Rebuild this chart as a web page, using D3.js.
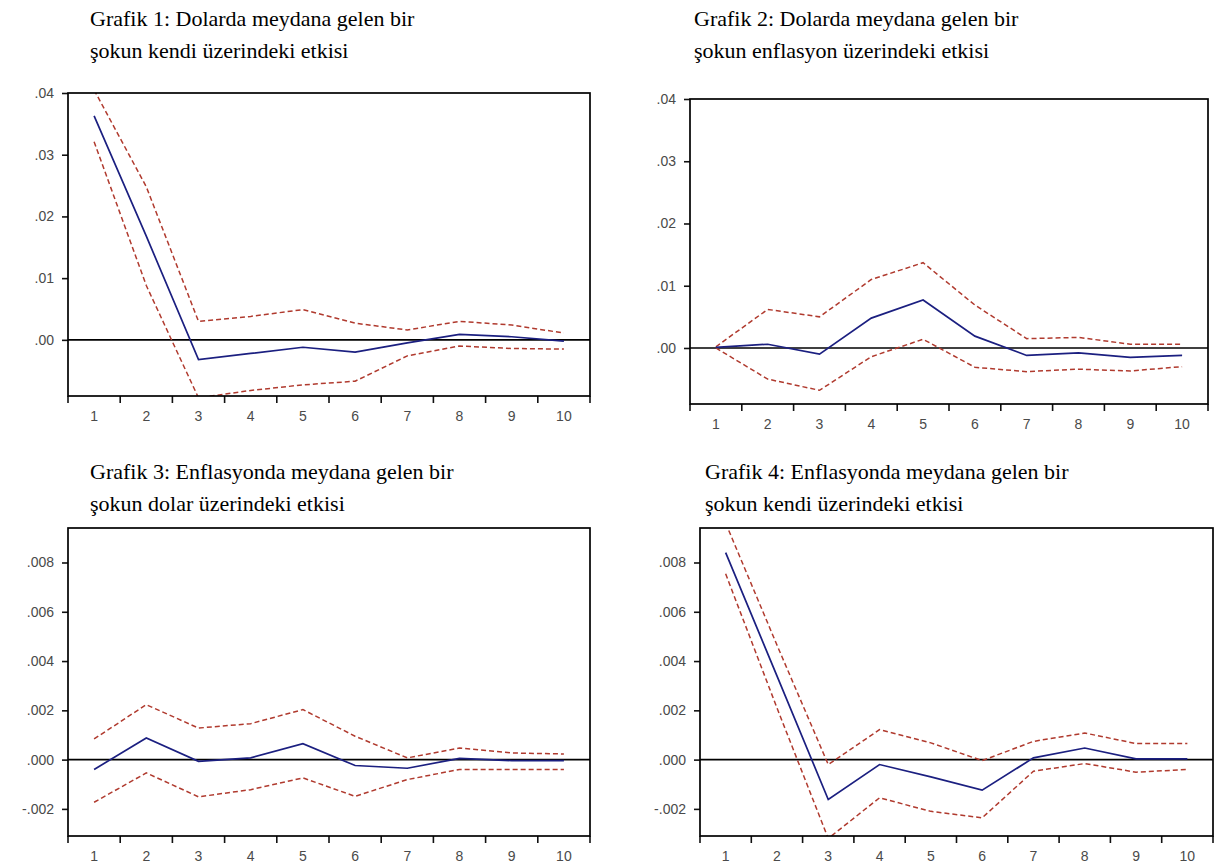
<!DOCTYPE html>
<html>
<head>
<meta charset="utf-8">
<script src="https://cdn.jsdelivr.net/npm/d3@7"></script>
<style>
  html, body { margin: 0; padding: 0; background: #fff; }
  svg { display: block; }
</style>
</head>
<body>
<svg id="chart" width="1215" height="868"></svg>
<script>
// Impulse responses over 10 periods, with ±2 s.e. bands
const periods = [1, 2, 3, 4, 5, 6, 7, 8, 9, 10];

// Grafik 1: dollar shock -> dollar
const g1Response = [0.0363, 0.0168, -0.0032, -0.0022, -0.0012, -0.0020, -0.0005, 0.0009, 0.0005, -0.0002];
const g1Upper    = [0.0405, 0.0248, 0.0030, 0.0038, 0.0049, 0.0027, 0.0016, 0.0030, 0.0024, 0.0011];
const g1Lower    = [0.0321, 0.0088, -0.0094, -0.0082, -0.0073, -0.0067, -0.0026, -0.0010, -0.0014, -0.0015];

// Grafik 2: dollar shock -> inflation
const g2Response = [0.0001, 0.0006, -0.0010, 0.0048, 0.0077, 0.0019, -0.0012, -0.0008, -0.0015, -0.0012];
const g2Upper    = [0.0002, 0.0062, 0.0050, 0.0110, 0.0137, 0.0069, 0.0015, 0.0017, 0.0006, 0.0006];
const g2Lower    = [0.0000, -0.0050, -0.0068, -0.0014, 0.0014, -0.0031, -0.0038, -0.0034, -0.0037, -0.0030];

// Grafik 3: inflation shock -> dollar
const g3Response = [-0.00040, 0.00088, -0.00007, 0.00007, 0.00065, -0.00024, -0.00035, 0.00005, -0.00004, -0.00004];
const g3Upper    = [0.00084, 0.00223, 0.00128, 0.00146, 0.00203, 0.00095, 0.00007, 0.00047, 0.00027, 0.00023];
const g3Lower    = [-0.00173, -0.00054, -0.00151, -0.00122, -0.00074, -0.00149, -0.00081, -0.00040, -0.00040, -0.00040];

// Grafik 4: inflation shock -> inflation
const g4Response = [0.00840, 0.00340, -0.00162, -0.00020, -0.00070, -0.00124, 0.00007, 0.00047, 0.00003, 0.00003];
const g4Upper    = [0.00960, 0.00465, -0.00020, 0.00122, 0.00068, -0.00004, 0.00074, 0.00108, 0.00065, 0.00065];
const g4Lower    = [0.00754, 0.00210, -0.00320, -0.00155, -0.00210, -0.00236, -0.00047, -0.00016, -0.00051, -0.00040];

// Axis ticks
const topTicks = [0.04, 0.03, 0.02, 0.01, 0.00];
const topTickLabels = [".04", ".03", ".02", ".01", ".00"];
const bottomTicks = [0.008, 0.006, 0.004, 0.002, 0.000, -0.002];
const bottomTickLabels = [".008", ".006", ".004", ".002", ".000", "-.002"];

// Titles (two lines each)
const titles = [
  ["Grafik 1: Dolarda meydana gelen bir", "şokun kendi üzerindeki etkisi"],
  ["Grafik 2: Dolarda meydana gelen bir", "şokun enflasyon üzerindeki etkisi"],
  ["Grafik 3: Enflasyonda meydana gelen bir", "şokun dolar üzerindeki etkisi"],
  ["Grafik 4: Enflasyonda meydana gelen bir", "şokun kendi üzerindeki etkisi"]
];

const panels = [
  { resp: g1Response, up: g1Upper, lo: g1Lower, ticks: topTicks, labels: topTickLabels,
    domain: [-0.0091, 0.04], left: 68, right: 590, top: 93, bottom: 396,
    titleX: 90, titleY: 26, title: titles[0] },
  { resp: g2Response, up: g2Upper, lo: g2Lower, ticks: topTicks, labels: topTickLabels,
    domain: [-0.009, 0.04], left: 690, right: 1208, top: 99, bottom: 404,
    titleX: 694, titleY: 26, title: titles[1] },
  { resp: g3Response, up: g3Upper, lo: g3Lower, ticks: bottomTicks, labels: bottomTickLabels,
    domain: [-0.0031, 0.0094], left: 68, right: 590, top: 528, bottom: 836,
    titleX: 90, titleY: 479, title: titles[2] },
  { resp: g4Response, up: g4Upper, lo: g4Lower, ticks: bottomTicks, labels: bottomTickLabels,
    domain: [-0.0031, 0.0094], left: 700, right: 1213, top: 528, bottom: 836,
    titleX: 705, titleY: 479, title: titles[3] }
];

const svg = d3.select("#chart");
const labelFont = "'Liberation Sans', Arial, sans-serif";

panels.forEach((p, idx) => {
  const g = svg.append("g");

  const x = d3.scaleBand().domain(periods).range([p.left, p.right]);
  const y = d3.scaleLinear().domain(p.domain).range([p.bottom, p.top]);
  const cx = d => x(d) + x.bandwidth() / 2;

  // title
  const t = g.append("text")
    .attr("x", p.titleX).attr("y", p.titleY)
    .attr("font-family", "'Liberation Serif', 'Times New Roman', serif")
    .attr("font-size", 22).attr("fill", "#000");
  p.title.forEach((line, i) => {
    t.append("tspan").attr("x", p.titleX).attr("dy", i === 0 ? 0 : 32).text(line);
  });

  // clip to plot box
  const clipId = "clip" + idx;
  svg.append("clipPath").attr("id", clipId)
    .append("rect").attr("x", p.left).attr("y", p.top)
    .attr("width", p.right - p.left).attr("height", p.bottom - p.top);

  // y axis
  const yAxis = d3.axisLeft(y).tickValues(p.ticks)
    .tickFormat((d, i) => p.labels[i]).tickSize(6).tickPadding(8);
  const ya = g.append("g").attr("transform", `translate(${p.left},0)`).call(yAxis);
  ya.select(".domain").remove();
  ya.selectAll("line").attr("stroke", "#111").attr("stroke-width", 1.6);
  ya.selectAll("text").attr("font-family", labelFont)
    .attr("font-size", 14).attr("fill", "#4a4a4a");

  // x axis: ticks at period boundaries, labels centred
  const bounds = periods.map(d => x(d)).concat([p.right]);
  g.append("g").selectAll("line").data(bounds).join("line")
    .attr("x1", d => d).attr("x2", d => d)
    .attr("y1", p.bottom).attr("y2", p.bottom + 7)
    .attr("stroke", "#111").attr("stroke-width", 1.6);
  g.append("g").selectAll("text").data(periods).join("text")
    .attr("x", d => cx(d)).attr("y", p.bottom + 25)
    .attr("text-anchor", "middle")
    .attr("font-family", labelFont)
    .attr("font-size", 14).attr("fill", "#4a4a4a")
    .text(d => d);

  const plot = g.append("g").attr("clip-path", `url(#${clipId})`);

  // zero line
  plot.append("line")
    .attr("x1", p.left).attr("x2", p.right)
    .attr("y1", y(0)).attr("y2", y(0))
    .attr("stroke", "#000").attr("stroke-width", 1.6);

  const line = d3.line().x((d, i) => cx(periods[i])).y(d => y(d));

  [p.up, p.lo].forEach(band => {
    plot.append("path").datum(band)
      .attr("d", line).attr("fill", "none")
      .attr("stroke", "#b03a2e").attr("stroke-width", 1.5)
      .attr("stroke-dasharray", "5,3");
  });

  plot.append("path").datum(p.resp)
    .attr("d", line).attr("fill", "none")
    .attr("stroke", "#1b1f80").attr("stroke-width", 1.7);

  // plot frame
  g.append("rect")
    .attr("x", p.left).attr("y", p.top)
    .attr("width", p.right - p.left).attr("height", p.bottom - p.top)
    .attr("fill", "none").attr("stroke", "#000").attr("stroke-width", 1.7);
});
</script>
</body>
</html>
